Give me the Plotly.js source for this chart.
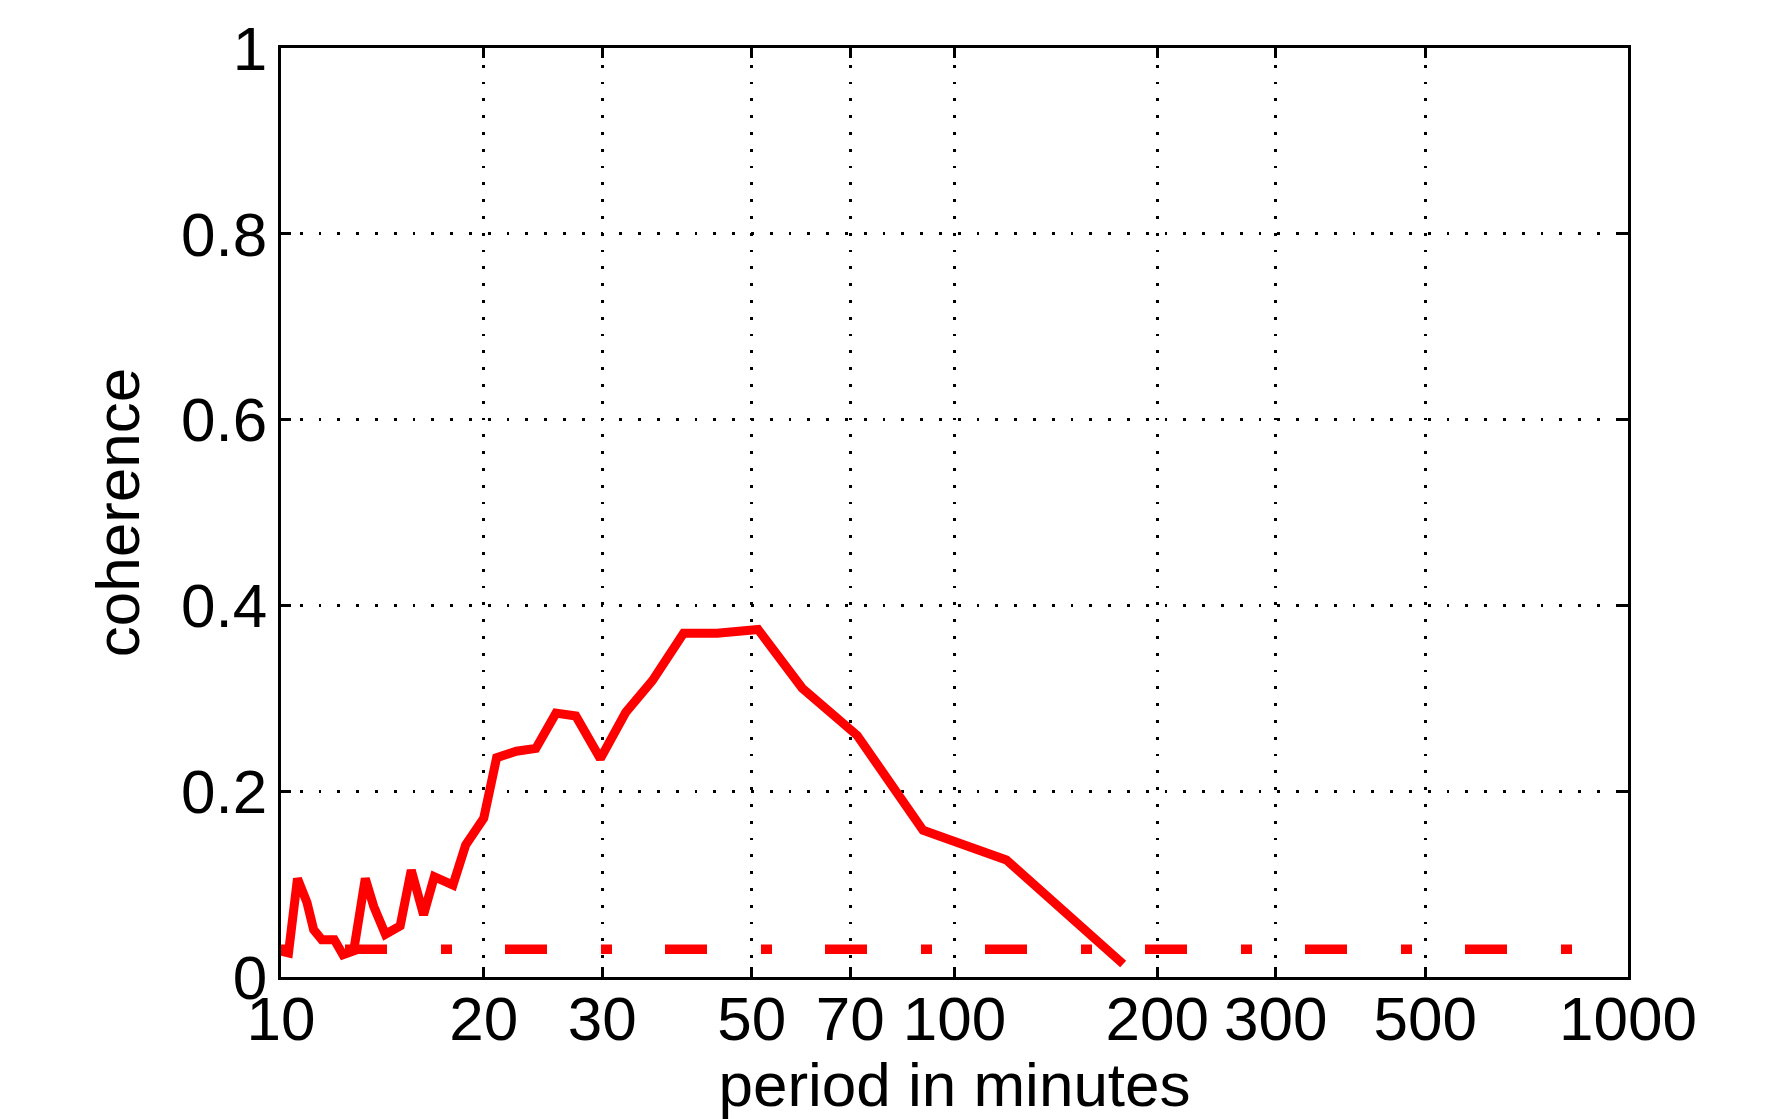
<!DOCTYPE html>
<html>
<head>
<meta charset="utf-8">
<script src="https://cdn.plot.ly/plotly-3.0.1.min.js"></script>
<style>html,body{margin:0;padding:0;background:#fff;}#chart{width:1786px;height:1119px;}</style>
</head>
<body>
<div id="chart"></div>
<script>
// Coherence (solid red line) vs period in minutes
const periodMinutes = [10, 10.26, 10.58, 10.93, 11.18, 11.5, 12.0, 12.36, 12.82, 13.34, 13.73, 14.29, 15.03, 15.61, 16.28, 16.89, 18.0, 18.8, 20.0, 20.9, 22.36, 23.9, 25.6, 27.4, 29.8, 32.5, 35.6, 39.6, 44.4, 51.1, 59.4, 71.7, 89.8, 119.4, 178];
const coherence = [0.028, 0.026, 0.106, 0.080, 0.051, 0.040, 0.040, 0.024, 0.028, 0.106, 0.076, 0.046, 0.055, 0.115, 0.067, 0.108, 0.099, 0.142, 0.171, 0.236, 0.243, 0.246, 0.284, 0.281, 0.235, 0.285, 0.319, 0.370, 0.370, 0.374, 0.311, 0.260, 0.158, 0.126, 0.014];

// Significance level (dash-dot red line)
const levelPeriod = [10, 900];
const levelValue = [0.03, 0.03];

// Axis ticks
const xTickVals = [10, 20, 30, 50, 70, 100, 200, 300, 500, 1000];
const xTickText = ['10', '20', '30', '50', '70', '100', '200', '300', '500', '1000'];
const yTickVals = [0, 0.2, 0.4, 0.6, 0.8, 1];
const yTickText = ['0', '0.2', '0.4', '0.6', '0.8', '1'];

const FONT = '"Liberation Sans", Arial, Helvetica, sans-serif';
const FS = 62;

const traces = [
  {
    x: levelPeriod, y: levelValue, type: 'scatter', mode: 'lines',
    line: {color: '#ff0000', width: 9.5, dash: '11px,53px,42px,54px'},
    hoverinfo: 'skip', showlegend: false
  },
  {
    x: periodMinutes, y: coherence, type: 'scatter', mode: 'lines',
    line: {color: '#ff0000', width: 9},
    showlegend: false
  }
];

const layout = {
  width: 1786, height: 1119,
  margin: {l: 281, r: 158, t: 48, b: 142, pad: 0},
  paper_bgcolor: '#ffffff', plot_bgcolor: '#ffffff',
  font: {family: FONT, size: FS, color: '#000'},
  showlegend: false,
  xaxis: {
    type: 'log', range: [1, 3],
    tickmode: 'array', tickvals: xTickVals, ticktext: xTickText,
    ticks: 'inside', ticklen: 10, tickwidth: 3, tickcolor: '#000',
    showline: true, linecolor: '#000', linewidth: 3.3, mirror: 'ticks',
    showgrid: true, gridcolor: '#000', gridwidth: 2.8, griddash: '2.8px,14px',
    zeroline: false,
    tickfont: {family: FONT, size: FS, color: '#000'},
    ticklabelstandoff: -15,
    title: {text: 'period in minutes', font: {family: FONT, size: FS, color: '#000'}, standoff: 23}
  },
  yaxis: {
    range: [0, 1],
    tickmode: 'array', tickvals: yTickVals, ticktext: yTickText,
    ticks: 'inside', ticklen: 10, tickwidth: 3, tickcolor: '#000',
    showline: true, linecolor: '#000', linewidth: 3.3, mirror: 'ticks',
    showgrid: true, gridcolor: '#000', gridwidth: 2.8, griddash: '2.8px,16px',
    zeroline: false,
    tickfont: {family: FONT, size: FS, color: '#000'},
    ticklabelstandoff: -2,
    title: {text: 'coherence', font: {family: FONT, size: FS, color: '#000'}, standoff: 22}
  }
};

Plotly.newPlot('chart', traces, layout, {staticPlot: true, displayModeBar: false});
</script>
</body>
</html>
